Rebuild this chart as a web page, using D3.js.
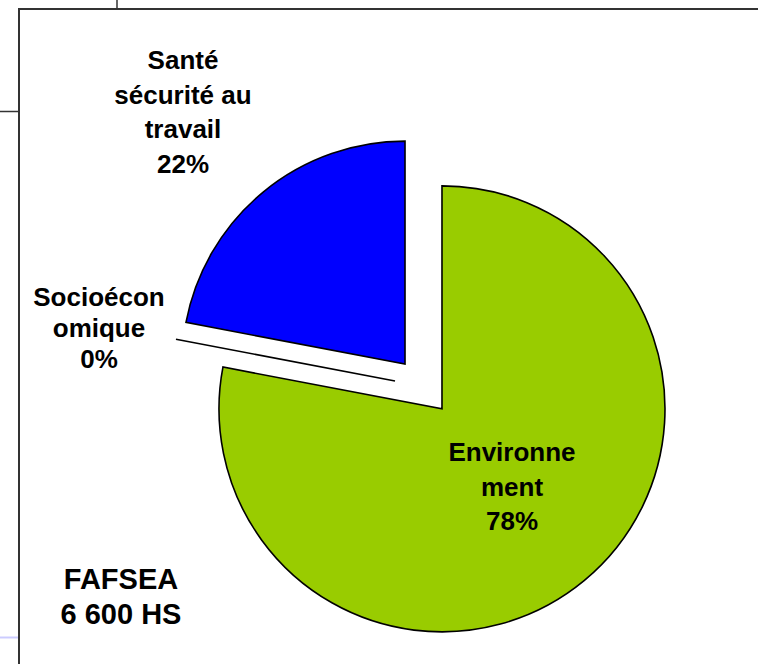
<!DOCTYPE html>
<html>
<head>
<meta charset="utf-8">
<script src="https://cdn.jsdelivr.net/npm/d3@7"></script>
<style>
  html, body { margin: 0; padding: 0; background: #fff; }
  svg { display: block; }
  text { font-family: "Liberation Sans", Arial, sans-serif; font-weight: bold; fill: #000; }
</style>
</head>
<body>
<svg id="chart" width="758" height="664"></svg>
<script>
// ---- data ----
const categories = ["Environnement", "Socioéconomique", "Santé sécurité au travail"];
const values = [78, 0, 22];
const labelLines = [["Environne", "ment"], ["Socioécon", "omique"], ["Santé", "sécurité au", "travail"]];
const colors = ["#99CC00", "#FFFFFF", "#0000FF"];
const noteLines = ["FAFSEA", "6 600 HS"];

// ---- layout ----
const W = 758, H = 664;
const cx = 423.5, cy = 386.5, R = 223, explode = 29;
const svg = d3.select("#chart");

// frame lines
svg.append("line").attr("x1", 19).attr("y1", 9).attr("x2", W).attr("y2", 9)
  .attr("stroke", "#333").attr("stroke-width", 2);
svg.append("line").attr("x1", 19).attr("y1", 8).attr("x2", 19).attr("y2", H)
  .attr("stroke", "#333").attr("stroke-width", 2);
svg.append("line").attr("x1", 117).attr("y1", 0).attr("x2", 117).attr("y2", 9)
  .attr("stroke", "#333").attr("stroke-width", 1.5);
svg.append("line").attr("x1", 0).attr("y1", 111.5).attr("x2", 19).attr("y2", 111.5)
  .attr("stroke", "#333").attr("stroke-width", 1.5);
svg.append("line").attr("x1", 0).attr("y1", 637.5).attr("x2", 18).attr("y2", 637.5)
  .attr("stroke", "#ccccff").attr("stroke-width", 2);

const total = d3.sum(values);
const pie = d3.pie().sort(null).value(d => d).startAngle(0).endAngle(2 * Math.PI);
const arcs = pie(values);
const arc = d3.arc().innerRadius(0).outerRadius(R);

const g = svg.append("g").attr("transform", `translate(${cx},${cy})`);

function offset(a) {
  const mid = (a.startAngle + a.endAngle) / 2;
  return [Math.sin(mid) * explode, -Math.cos(mid) * explode];
}

g.selectAll("path.slice").data(arcs).join("path")
  .attr("class", "slice")
  .attr("transform", d => { const o = offset(d); return `translate(${o[0]},${o[1]})`; })
  .attr("d", d => {
    if (d.endAngle - d.startAngle === 0) {
      const a = d.startAngle;
      return `M0,0L${Math.sin(a) * R},${-Math.cos(a) * R}`;
    }
    return arc(d);
  })
  .attr("fill", (d, i) => values[i] === 0 ? "none" : colors[i])
  .attr("stroke", "#000")
  .attr("stroke-width", 1.6)
  .attr("stroke-linejoin", "miter");

// labels (anchor centers in page coordinates, baseline of first line)
const labelPos = [
  { x: 512, y: 461, dy: 34.5 },
  { x: 99, y: 306, dy: 31 },
  { x: 183, y: 69, dy: 34.5 }
];
arcs.forEach((d, i) => {
  const pct = Math.round(values[i] / total * 100) + "%";
  const lines = labelLines[i].concat([pct]);
  const p = labelPos[i];
  const t = svg.append("text").attr("text-anchor", "middle").style("font-size", "26px");
  lines.forEach((ln, k) => {
    t.append("tspan").attr("x", p.x).attr("y", p.y + k * p.dy).text(ln);
  });
});

// note
const note = svg.append("text").attr("text-anchor", "middle").style("font-size", "29px");
noteLines.forEach((ln, k) => {
  note.append("tspan").attr("x", 121).attr("y", 589 + k * 35).text(ln);
});
</script>
</body>
</html>
